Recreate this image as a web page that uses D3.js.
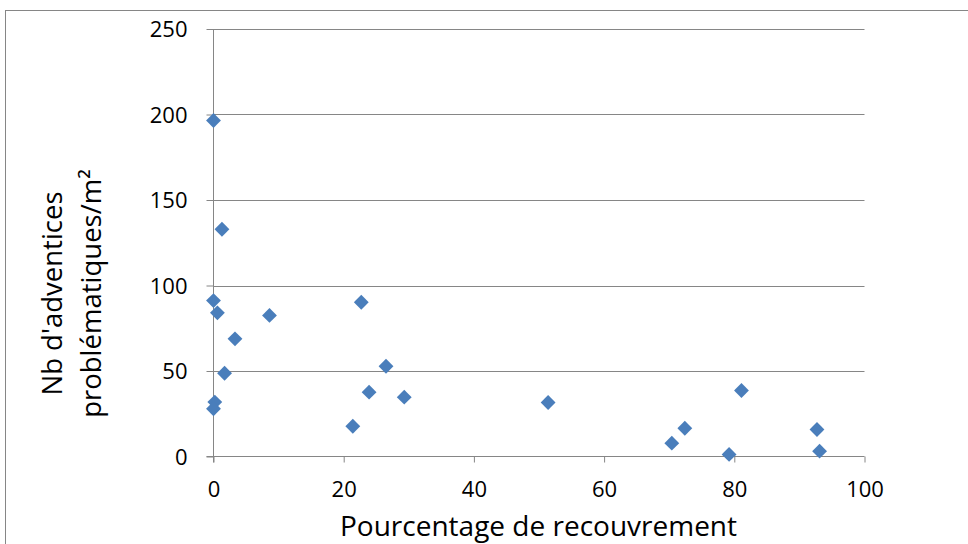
<!DOCTYPE html>
<html><head><meta charset="utf-8">
<script src="https://cdn.jsdelivr.net/npm/d3@7"></script>
<style>body{margin:0;background:#fff}svg{display:block}text{font-family:"Open Sans",sans-serif;fill:#000}</style>
</head><body>
<svg id="c" width="968" height="544"></svg>
<script>
const recouvrement = [0, 1.3, 0, 0.6, 8.6, 3.3, 1.7, 0.2, 0, 22.7, 26.5, 23.9, 29.3, 21.4, 51.4, 81.1, 72.4, 70.4, 79.2, 92.7, 93.1];
const adventices   = [196.5, 132.9, 91.2, 84, 82.5, 68.8, 48.7, 31.8, 27.9, 90.2, 52.8, 37.6, 34.7, 17.7, 31.6, 38.6, 16.5, 7.8, 1.2, 15.8, 3.1];
const xTicks = [0, 20, 40, 60, 80, 100];
const yTicks = [0, 50, 100, 150, 200, 250];
const xTitle = "Pourcentage de recouvrement";
const yTitle = ["Nb d'adventices", "problématiques/m²"];

const svg = d3.select("#c");
const grey = "#868686";
svg.append("rect").attr("x",5.5).attr("y",10.5).attr("width",1000).attr("height",600)
  .attr("fill","none").attr("stroke",grey);

const x = d3.scaleLinear().domain([0,100]).range([213.5, 864.5]);
const y = d3.scaleLinear().domain([0,250]).range([456.5, 29]);

// gridlines
svg.append("g").selectAll("line").data(yTicks.filter(d=>d>0)).join("line")
  .attr("x1", x(0)).attr("x2", x(100)).attr("y1", d=>Math.round(y(d))+0.5).attr("y2", d=>Math.round(y(d))+0.5)
  .attr("stroke", grey).attr("stroke-width",1);

const yAxis = svg.append("g").attr("transform",`translate(${x(0)},0)`)
  .call(d3.axisLeft(y).tickValues(yTicks).tickSize(7).tickPadding(19).tickFormat(d3.format("d")));
yAxis.select(".domain").attr("stroke",grey).attr("d",`M0,${y(250)}V${y(0)+6}`);
yAxis.selectAll(".tick line").attr("stroke",grey);
yAxis.selectAll(".tick text").style("font-size","22px").attr("fill","#000").attr("dy","0.36em");

const xAxis = svg.append("g").attr("transform",`translate(0,${y(0)})`)
  .call(d3.axisBottom(x).tickValues(xTicks).tickSize(6).tickPadding(19).tickFormat(d3.format("d")));
xAxis.select(".domain").attr("stroke",grey).attr("d",`M${x(0)-7},0H${x(100)}`);
xAxis.selectAll(".tick line").attr("stroke",grey);
xAxis.selectAll(".tick text").style("font-size","22px").attr("fill","#000");

// points
const diamond = d3.symbol().type(d3.symbolSquare).size(110)();
svg.append("g").selectAll("path").data(recouvrement.map((v,i)=>[v,adventices[i]])).join("path")
  .attr("d", diamond)
  .attr("transform", d=>`translate(${x(d[0])},${y(d[1])}) rotate(45)`)
  .attr("fill","#4a7ebb");

// titles
svg.append("text").attr("x", 538.5).attr("y", 536).attr("text-anchor","middle")
  .style("font-size","28px").text(xTitle);
const yt = svg.append("text").attr("transform",`translate(0,293.5) rotate(-90)`).attr("text-anchor","middle")
  .style("font-size","27.5px");
yt.append("tspan").attr("x",0).attr("y",62).text(yTitle[0]);
yt.append("tspan").attr("x",0).attr("y",101).text(yTitle[1]);
</script>
</body></html>
